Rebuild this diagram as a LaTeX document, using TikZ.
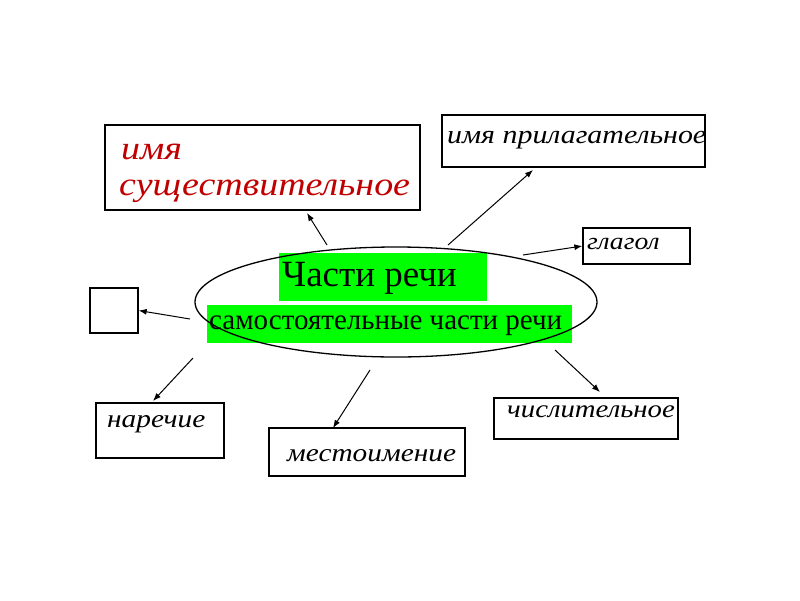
\documentclass[tikz,border=0pt]{standalone}
\usepackage{fontspec}
\setmainfont{Liberation Serif}
\newfontfamily\wideit[FakeStretch=1.15]{Liberation Serif}
\usetikzlibrary{arrows.meta}
\definecolor{lime}{RGB}{0,255,0}
\definecolor{darkred}{RGB}{192,0,0}
\tikzset{
  box/.style={draw=black, line width=1.3pt, inner sep=0pt},
  link/.style={draw=black, line width=1pt, -{Latex[length=8pt,width=6pt]}},
  green/.style={fill=lime, inner sep=0pt},
  itl/.style={anchor=west, inner sep=0pt}
}
\newcommand{\itsz}[1]{\wideit\itshape\fontsize{#1}{#1}\selectfont}
\begin{document}
\begin{tikzpicture}[x=1pt,y=-1pt]
\useasboundingbox (0,0) rectangle (800,600);
% boxes
\node[box, minimum width=315pt, minimum height=85pt] (noun) at (262.5,167.5) {};
\node[itl, text=darkred, font=\itsz{33}] (n1) at (121,152) {имя};
\node[itl, text=darkred, font=\itsz{33}] (n2) at (119,191) {существительное};
\node[box, minimum width=263pt, minimum height=52pt] (adj) at (573.5,141) {};
\node[itl, font=\itsz{26}] (a1) at (447,140) {имя прилагательное};
\node[box, minimum width=107pt, minimum height=36pt] (verb) at (636.5,246) {};
\node[itl, font=\itsz{24}] (v1) at (587,244) {глагол};
\node[box, minimum width=48pt, minimum height=45pt] (empty) at (114,310.5) {};
\node[box, minimum width=128pt, minimum height=55pt] (adv) at (160,430.5) {};
\node[itl, font=\itsz{25.5}] (d1) at (107,424) {наречие};
\node[box, minimum width=196pt, minimum height=48pt] (pron) at (367,452) {};
\node[itl, font=\itsz{25.5}] (p1) at (287,456) {местоимение};
\node[box, minimum width=184pt, minimum height=41pt] (num) at (586,418.5) {};
\node[itl, font=\itsz{25}] (m1) at (507,412) {числительное};
% central ellipse
\node[green, minimum width=208pt, minimum height=48pt] (g1) at (383,277) {};
\node[anchor=west, inner sep=0pt, font=\fontsize{37}{37}\selectfont] (t1) at (282,278) {Части речи};
\node[green, minimum width=365pt, minimum height=38pt] (g2) at (389.5,324) {};
\node[anchor=west, inner sep=0pt, font=\fontsize{29}{29}\selectfont] (t2) at (209,326) {самостоятельные части речи};
\draw[line width=1.3pt] (396,302) ellipse [x radius=201, y radius=55];
% connectors
\coordinate (s1) at (327,245);
\coordinate (s2) at (448,245);
\coordinate (s3) at (523,255);
\coordinate (s4) at (190,319);
\coordinate (s5) at (193,358);
\coordinate (s6) at (370,370);
\coordinate (s7) at (555,350);
\coordinate (e1) at (307,213);
\coordinate (e2) at (533,170);
\coordinate (e5) at (153,401);
\coordinate (e6) at (333,428);
\coordinate (e7) at (600,392);
\draw[link] (s1) -- (e1);
\draw[link] (s2) -- (e2);
\draw[link] (s3) -- (verb.west);
\draw[link] (s4) -- (empty.east);
\draw[link] (s5) -- (e5);
\draw[link] (s6) -- (e6);
\draw[link] (s7) -- (e7);
\end{tikzpicture}
\end{document}
